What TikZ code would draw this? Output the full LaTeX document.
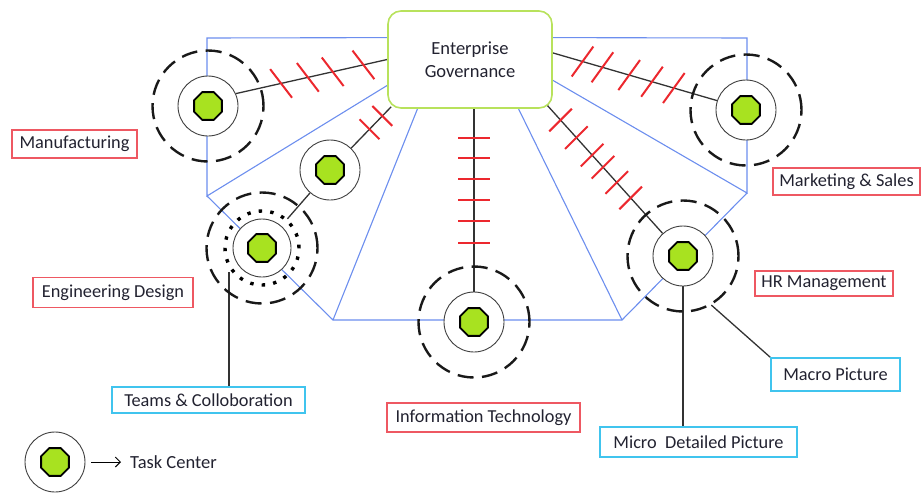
\documentclass[tikz,border=0pt]{standalone}
\usepackage{fontspec}
\setmainfont{Carlito}
\usetikzlibrary{calc,shapes.geometric,arrows.meta}
\definecolor{gfill}{RGB}{168,226,32}
\definecolor{gline}{RGB}{184,226,92}
\definecolor{tickred}{RGB}{236,40,46}
\definecolor{labred}{RGB}{238,88,98}
\definecolor{labcyan}{RGB}{64,196,238}
\definecolor{bline}{RGB}{108,142,238}
\definecolor{txt}{RGB}{34,34,48}
\pgfdeclarelayer{background}
\pgfsetlayers{background,main}
\begin{document}
\begin{tikzpicture}[x=1pt,y=-1pt,
  blueln/.style={draw=bline,line width=1.1pt},
  conn/.style={draw=black!80,line width=1.3pt},
  tickln/.style={draw=tickred,line width=2pt},
  thinc/.style={circle,draw=black!75,line width=0.9pt,fill=white,minimum size=60pt,inner sep=0pt},
  dashc/.style={circle,draw=black!90,line width=2.4pt,dash pattern=on 16pt off 8.5pt,minimum size=111pt,inner sep=0pt},
  dotc/.style={circle,draw=black,line width=3.4pt,dash pattern=on 3.4pt off 8.2pt,minimum size=74pt,inner sep=0pt},
  core/.style={regular polygon,regular polygon sides=8,draw=black,line width=1.8pt,fill=gfill,minimum size=30pt,inner sep=0pt},
  lab/.style={draw=labred,line width=1.4pt,text=txt,font=\fontsize{18.3}{22}\selectfont,inner xsep=5pt,inner ysep=0pt},
  labc/.style={lab,draw=labcyan},
]
\path[use as bounding box] (0,0) rectangle (922,498);

% governance box
\node[draw=gline,line width=1.6pt,rounded corners=13pt,fill=white,minimum width=164pt,minimum height=97pt,
      align=center,text=txt,font=\fontsize{18.5}{23}\selectfont] (gov) at (470,59.5) {Enterprise\\Governance};

% task centers
\node[dashc] (mdash) at (208,106) {};
\node[thinc] (mthin) at (208,106) {};
\node[core] at (208,106) {};

\node[dashc] (kdash) at (746,110) {};
\node[thinc] (kthin) at (746,110) {};
\node[core] at (746,110) {};

\node[thinc] (cthin) at (330,170) {};
\node[core] at (330,170) {};

\node[dashc] (edash) at (262,248) {};
\node[dotc] (edot) at (262,248) {};
\node[thinc,minimum size=58pt] (ethin) at (262,248) {};
\node[core] at (262,248) {};

\node[dashc] (idash) at (474,322) {};
\node[thinc] (ithin) at (474,322) {};
\node[core] at (474,322) {};

\node[dashc] (hdash) at (683,256) {};
\node[thinc] (hthin) at (683,256) {};
\node[core] at (683,256) {};

% labels
\node[lab,minimum width=125pt,minimum height=28pt] (manu) at (74.5,144) {Manufacturing};
\node[lab,minimum width=160pt,minimum height=30pt] (eng) at (113,292.5) {Engineering Design};
\node[labc,minimum width=193pt,minimum height=26pt] (teams) at (208.5,400) {Teams \& Colloboration};
\node[lab,minimum width=193pt,minimum height=29pt] (it) at (483.5,417.5) {Information Technology};
\node[lab,minimum width=147pt,minimum height=27pt] (mkt) at (846.5,181.5) {Marketing \& Sales};
\node[lab,minimum width=138pt,minimum height=25pt] (hr) at (824,283.5) {HR Management};
\node[labc,minimum width=129pt,minimum height=33pt] (macro) at (835.5,374.5) {Macro Picture};
\node[labc,minimum width=197pt,minimum height=30pt] (micro) at (698.5,442) {Micro\ \ Detailed Picture};

% legend
\node[thinc] (lthin) at (55,462) {};
\node[core] at (55,462) {};
\node[anchor=west,inner sep=0pt,text=txt,font=\fontsize{18.5}{22}\selectfont] (task) at (130,462) {Task Center};
\draw[line width=1pt,-{Straight Barb[length=5pt,width=10pt]}] ($(lthin.east)+(6,0)$) -- ($(task.west)+(-9,0)$);

\begin{pgfonlayer}{background}
% blue frame
\coordinate (pTL) at (207,38);
\coordinate (pTR) at (747,38);
\coordinate (pL) at (207,196);
\coordinate (pR) at (747,193);
\coordinate (pBL) at (333,320);
\coordinate (pBR) at (622,320);
\coordinate (gA) at ($(gov.north west)!0.278!(gov.south west)$);
\coordinate (gB) at ($(gov.north west)!0.763!(gov.south west)$);
\coordinate (gC) at ($(gov.south west)!0.183!(gov.south east)$);
\coordinate (gD) at ($(gov.south west)!0.793!(gov.south east)$);
\coordinate (gE) at ($(gov.north east)!0.711!(gov.south east)$);
\coordinate (gF) at ($(gov.north east)!0.278!(gov.south east)$);
\draw[blueln] (gA) -- (pTL) -- (pL) -- (gB);
\draw[blueln] (gF) -- (pTR) -- (pR) -- (gE);
\draw[blueln] (pL) -- (pBL) -- (pBR) -- (pR);
\draw[blueln] (pBL) -- (gC);
\draw[blueln] (pBR) -- (gD);

% connectors
\coordinate (g1) at ($(gov.north west)!0.5!(gov.south west)$);
\coordinate (g2) at ($(gov.south west)+(4,-2)$);
\coordinate (g3) at ($(gov.south east)+(-6,-4)$);
\coordinate (g4) at ($(gov.north east)!0.433!(gov.south east)$);
\draw[conn] (mthin.24) -- (g1);
\foreach \t in {0.299,0.476,0.640,0.843}
  \draw[tickln] ($(mthin.24)!\t!(g1)+(52.6:18)$) -- ($(mthin.24)!\t!(g1)+(232.6:18)$);

\draw[conn] (kthin.162) -- (g4);
\foreach \t in {0.263,0.396,0.535,0.698,0.819}
  \draw[tickln] ($(kthin.162)!\t!(g4)+(125.8:18.5)$) -- ($(kthin.162)!\t!(g4)+(305.8:18.5)$);

\draw[conn] (hthin) -- (g3);
\foreach \t in {0.384,0.486,0.587,0.667,0.783,0.899}
  \draw[tickln] ($(hthin.center)!\t!(g3)+(135:16)$) -- ($(hthin.center)!\t!(g3)+(315:16)$);

\draw[conn] (cthin) -- (g2);
\foreach \t in {0.645,0.855}
  \draw[tickln] ($(cthin.center)!\t!(g2)+(45:14)$) -- ($(cthin.center)!\t!(g2)+(225:14)$);

\draw[conn] (cthin) -- (edot);

\draw[conn] (ithin) -- (ithin |- gov.south);
\foreach \y in {138,158,179,200,221,243}
  \draw[tickln] (458,\y) -- (490,\y);

\coordinate (tA) at (229,272);
\draw[conn,line width=1.5pt] (teams.north -| tA) -- (tA);
\draw[conn,line width=1.5pt] (hthin.south) -- (hthin.south |- micro.north);
\draw[conn] (hdash.300) -- (macro.north west);
\end{pgfonlayer}
\end{tikzpicture}
\end{document}
